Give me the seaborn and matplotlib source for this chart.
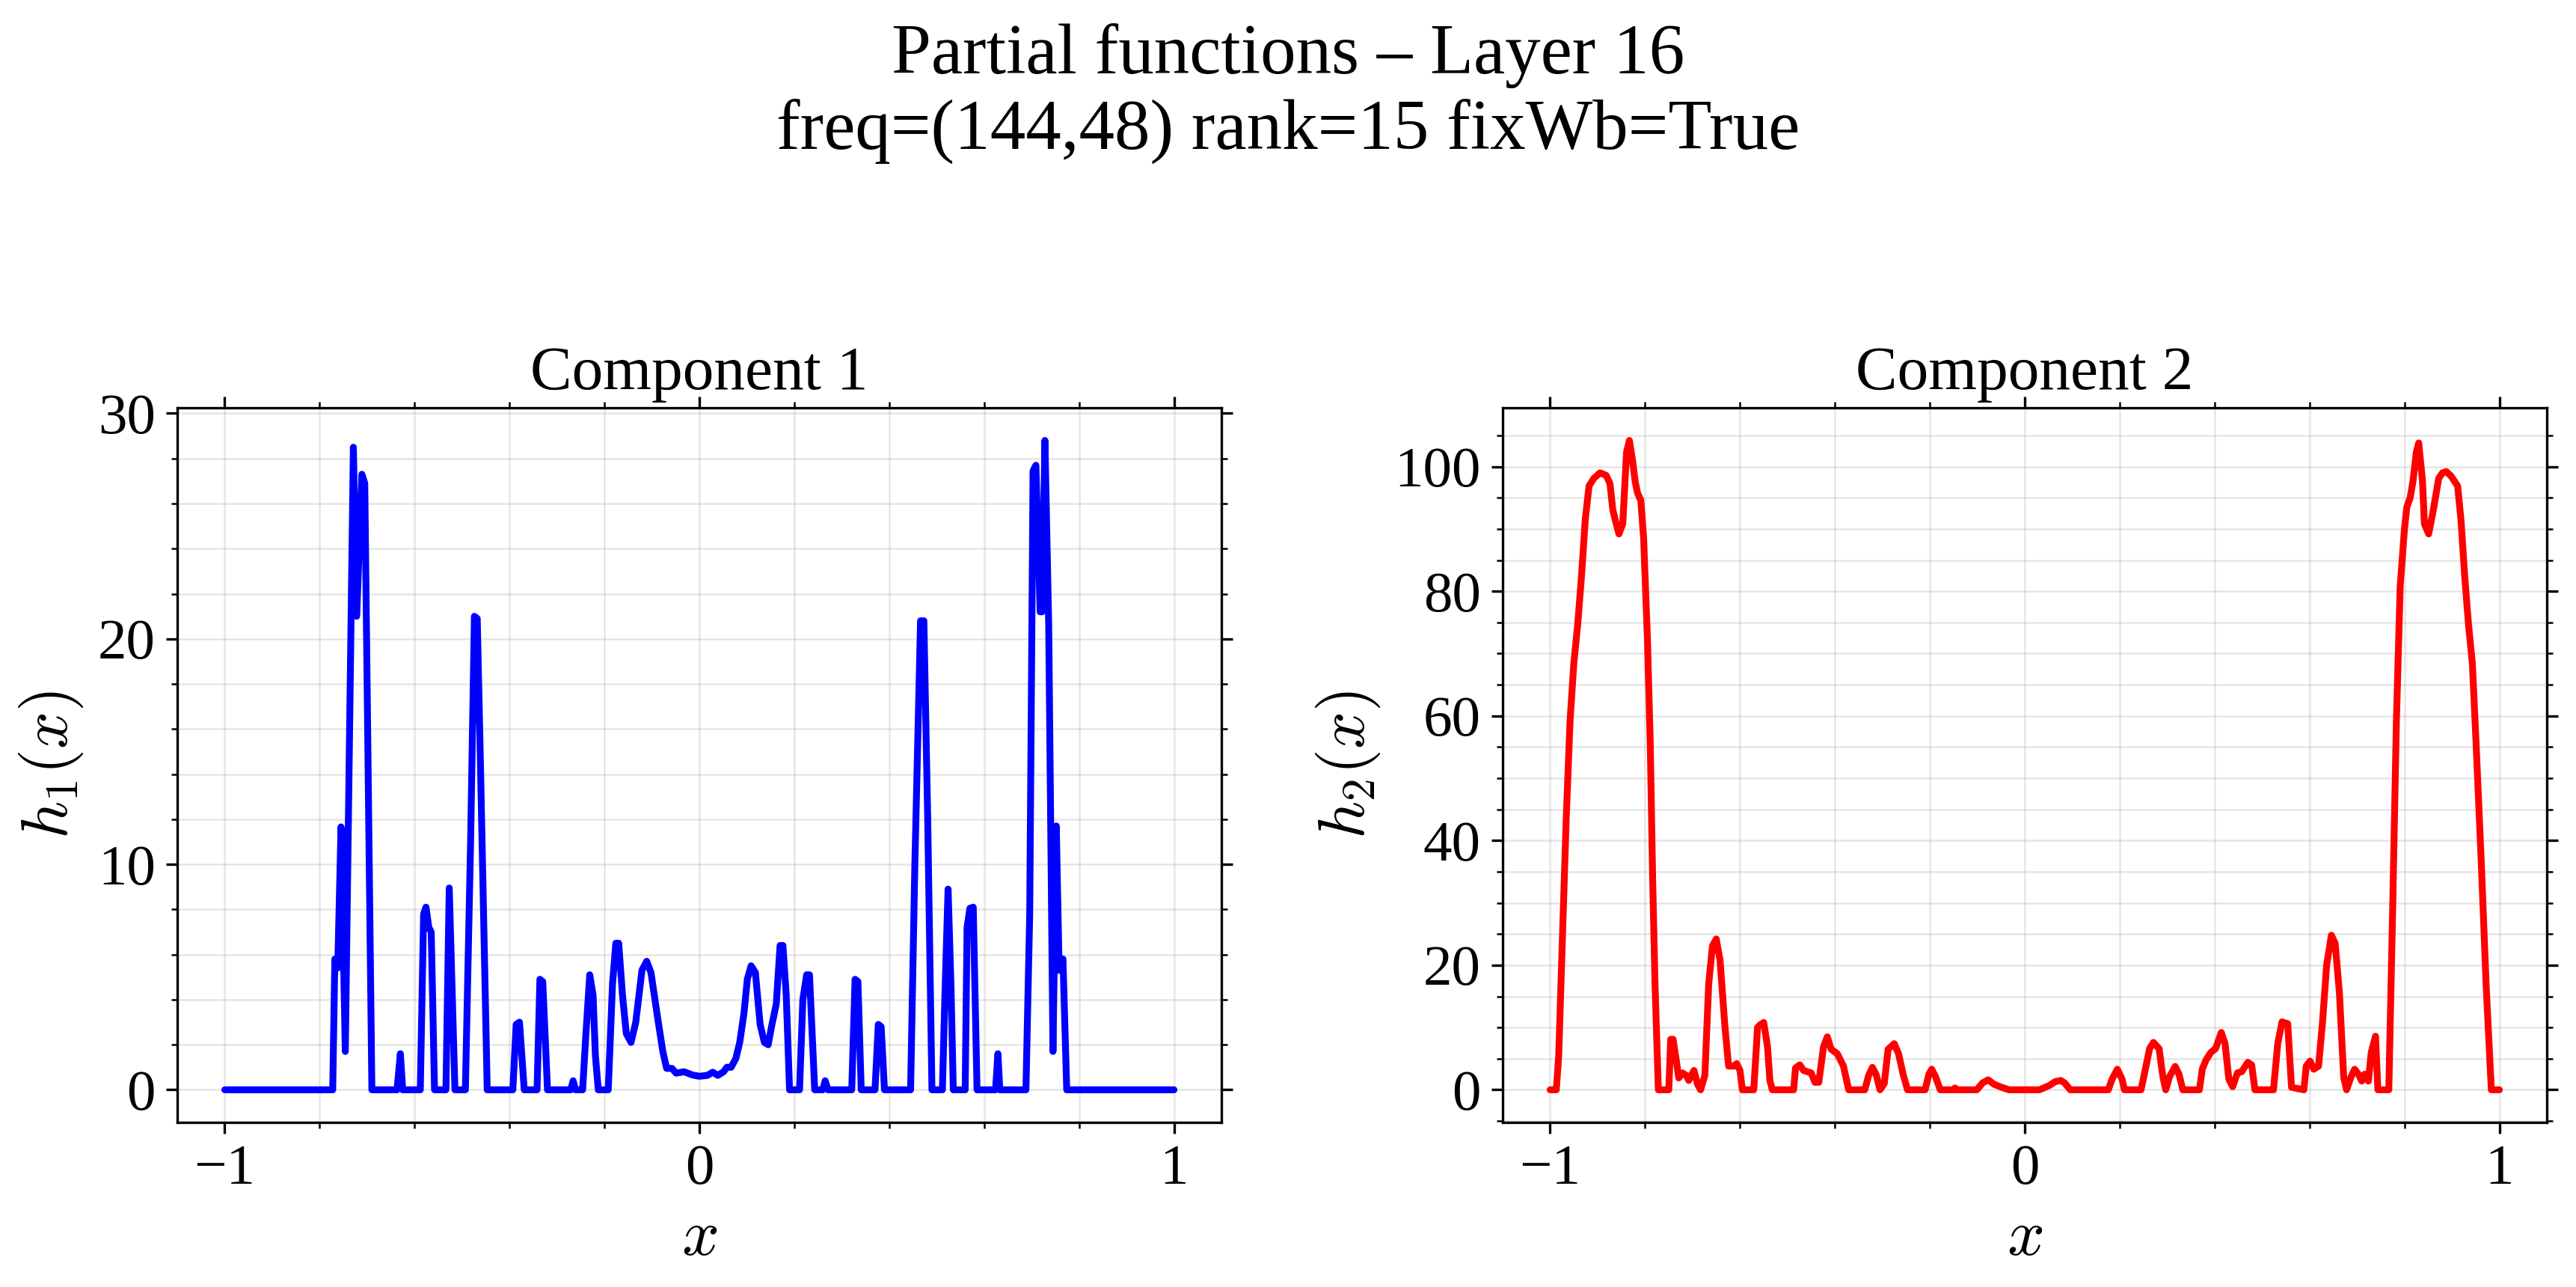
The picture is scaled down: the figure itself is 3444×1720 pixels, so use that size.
import numpy as np
import pandas as pd
import seaborn as sns
import matplotlib.pyplot as plt
from matplotlib.ticker import MultipleLocator, AutoMinorLocator

# component 1
x1 = [-1.0, -0.7725, -0.768, -0.762, -0.755, -0.746, -0.729, -0.722, -0.711, -0.705,
      -0.690, -0.637, -0.630, -0.625, -0.588, -0.581, -0.576, -0.570, -0.565, -0.558,
      -0.534, -0.527, -0.515, -0.493, -0.482, -0.474, -0.468, -0.461, -0.447, -0.393,
      -0.386, -0.379, -0.369, -0.342, -0.336, -0.330, -0.320, -0.271, -0.266, -0.261,
      -0.246, -0.239, -0.231, -0.224, -0.219, -0.213, -0.192, -0.183, -0.176, -0.170,
      -0.162, -0.154, -0.144, -0.134, -0.121, -0.111, -0.102, -0.088, -0.077, -0.069,
      -0.058, -0.049, -0.032, -0.015, 0.000, 0.017, 0.028, 0.039, 0.051, 0.058,
      0.067, 0.077, 0.085, 0.094, 0.101, 0.109, 0.118, 0.128, 0.137, 0.145,
      0.152, 0.162, 0.170, 0.176, 0.183, 0.190, 0.211, 0.218, 0.226, 0.232,
      0.243, 0.260, 0.265, 0.271, 0.321, 0.328, 0.334, 0.341, 0.370, 0.377,
      0.383, 0.390, 0.445, 0.454, 0.466, 0.473, 0.481, 0.490, 0.512, 0.518,
      0.524, 0.530, 0.535, 0.560, 0.564, 0.570, 0.577, 0.585, 0.624, 0.629,
      0.633, 0.688, 0.696, 0.703, 0.709, 0.718, 0.722, 0.728, 0.736, 0.745,
      0.752, 0.758, 0.766, 0.774, 1.0]
h1 = [0, 0, 5.8, 5.4, 11.66, 1.7, 28.5, 21.0, 27.3, 26.9,
      0, 0, 1.6, 0, 0, 7.8, 8.1, 7.2, 7.0, 0,
      0, 8.95, 0, 0, 11.0, 21.0, 20.9, 14.2, 0, 0,
      2.9, 3.0, 0, 0, 4.9, 4.8, 0, 0, 0.4, 0,
      0, 2.5, 5.1, 4.2, 1.5, 0, 0, 4.7, 6.5, 6.5,
      4.2, 2.5, 2.1, 3.0, 5.3, 5.7, 5.2, 3.2, 1.7, 0.95,
      0.95, 0.74, 0.8, 0.66, 0.6, 0.64, 0.78, 0.64, 0.8, 1.0,
      1.0, 1.4, 2.1, 3.4, 4.9, 5.5, 5.2, 2.9, 2.1, 2.0,
      2.8, 3.8, 6.4, 6.4, 4.2, 0, 0, 4.0, 5.1, 5.1,
      0, 0, 0.4, 0, 0, 4.9, 4.8, 0, 0, 2.9,
      2.8, 0, 0, 10.0, 20.8, 20.8, 12.1, 0, 0, 4.7,
      8.9, 4.7, 0, 0, 7.2, 8.05, 8.1, 0, 0, 1.6,
      0, 0, 7.8, 27.45, 27.7, 21.2, 21.2, 28.8, 20.6, 1.7,
      11.7, 5.3, 5.8, 0, 0]

# component 2
x2 = [-1.0, -0.987, -0.982, -0.974, -0.966, -0.958, -0.950, -0.942, -0.934, -0.926,
      -0.918, -0.908, -0.895, -0.882, -0.874, -0.868, -0.863, -0.855, -0.847, -0.839,
      -0.833, -0.826, -0.821, -0.816, -0.809, -0.803, -0.795, -0.789, -0.784, -0.779,
      -0.772, -0.750, -0.746, -0.741, -0.734, -0.729, -0.721, -0.713, -0.708, -0.697,
      -0.689, -0.683, -0.674, -0.666, -0.658, -0.650, -0.642, -0.632, -0.624, -0.613,
      -0.607, -0.600, -0.595, -0.571, -0.563, -0.558, -0.550, -0.542, -0.537, -0.532,
      -0.487, -0.483, -0.474, -0.466, -0.458, -0.450, -0.442, -0.434, -0.424, -0.416,
      -0.408, -0.395, -0.382, -0.371, -0.337, -0.329, -0.321, -0.313, -0.305, -0.296,
      -0.288, -0.275, -0.266, -0.256, -0.247, -0.210, -0.202, -0.196, -0.188, -0.178,
      -0.150, -0.147, -0.144, -0.101, -0.089, -0.077, -0.065, -0.049, -0.033, 0.031,
      0.052, 0.064, 0.076, 0.084, 0.096, 0.176, 0.184, 0.195, 0.205, 0.210,
      0.245, 0.253, 0.263, 0.271, 0.283, 0.291, 0.297, 0.305, 0.317, 0.325,
      0.333, 0.368, 0.374, 0.382, 0.392, 0.402, 0.414, 0.422, 0.430, 0.438,
      0.448, 0.457, 0.470, 0.478, 0.485, 0.524, 0.533, 0.542, 0.554, 0.562,
      0.588, 0.593, 0.601, 0.609, 0.619, 0.627, 0.636, 0.646, 0.654, 0.663,
      0.672, 0.678, 0.687, 0.695, 0.703, 0.710, 0.716, 0.724, 0.730, 0.739,
      0.744, 0.767, 0.775, 0.783, 0.791, 0.800, 0.805, 0.812, 0.818, 0.825,
      0.830, 0.838, 0.842, 0.851, 0.859, 0.867, 0.872, 0.880, 0.888, 0.898,
      0.912, 0.919, 0.927, 0.935, 0.943, 0.951, 0.962, 0.972, 0.983, 1.0]
h2 = [0, 0, 5.4, 24.6, 43.8, 59.2, 68.5, 74.6, 82.3, 91.5,
      96.9, 98.1, 99.0, 98.6, 97.3, 93.1, 91.5, 89.2, 90.8, 102.3,
      104.2, 100.8, 97.7, 95.8, 94.6, 88.5, 72.3, 55.4, 33.8, 16.9,
      0, 0, 8.1, 8.1, 4.6, 1.9, 2.7, 2.3, 1.5, 3.1,
      0.8, 0, 2.3, 16.9, 23.1, 24.2, 20.8, 10.4, 3.8, 3.8,
      4.2, 3.1, 0, 0, 10.0, 10.4, 10.8, 6.9, 1.5, 0,
      0, 3.5, 4.0, 3.1, 2.9, 2.7, 1.2, 1.2, 6.9, 8.5,
      6.5, 5.8, 3.8, 0, 0, 2.3, 3.6, 2.4, 0, 1.0,
      6.5, 7.4, 5.8, 2.4, 0, 0, 2.5, 3.3, 2.1, 0,
      0, 0.3, 0, 0, 1.1, 1.6, 0.9, 0.4, 0, 0,
      0.7, 1.3, 1.5, 1.1, 0, 0, 1.7, 3.3, 1.7, 0,
      0, 2.9, 6.6, 7.6, 6.6, 2.1, 0, 2.1, 3.75, 2.5,
      0, 0, 3.3, 4.8, 6.0, 6.6, 9.2, 7.4, 1.7, 0.5,
      2.7, 2.9, 4.4, 4.0, 0, 0, 7.4, 10.9, 10.6, 0.4,
      0, 3.8, 4.6, 3.3, 3.8, 10.5, 20.0, 24.8, 23.5, 15.5,
      2.0, 0, 2.0, 3.3, 2.5, 1.4, 2.5, 1.4, 6.0, 8.6,
      0, 0, 28.5, 59.2, 80.8, 90.0, 93.5, 95.0, 97.7, 102.3,
      103.8, 97.7, 90.8, 89.2, 92.3, 95.8, 98.1, 99.0, 99.2, 98.5,
      96.9, 91.5, 82.3, 74.6, 68.5, 55.4, 36.2, 16.9, 0, 0]

panels = [
    ("Component 1", r"$h_1(x)$", x1, h1, "blue", 10),
    ("Component 2", r"$h_2(x)$", x2, h2, "red", 20),
]

sns.set_style("ticks")
plt.rcParams["font.family"] = ["Liberation Serif", "DejaVu Serif"]
plt.rcParams["mathtext.fontset"] = "cm"
plt.rcParams["axes.unicode_minus"] = True
for key in ["text.color", "axes.labelcolor", "axes.edgecolor", "xtick.color", "ytick.color"]:
    plt.rcParams[key] = "black"

fig, axes = plt.subplots(1, 2, figsize=(3445 / 300, 1720 / 300), dpi=300)
fig.subplots_adjust(left=0.0688, right=0.9884, bottom=0.128, top=0.683, wspace=0.2693)

for ax, (title, ylab, xs, ys, col, ystep) in zip(axes, panels):
    df = pd.DataFrame({"x": xs, "h": ys})
    sns.lineplot(data=df, x="x", y="h", ax=ax, color=col, linewidth=2.2,
                 estimator=None, sort=False)
    ax.set_title(title, fontsize=20)
    ax.set_xlabel(r"$x$", fontsize=21, labelpad=4)
    ax.set_ylabel(ylab, fontsize=21, labelpad=4)
    ax.xaxis.set_major_locator(MultipleLocator(1))
    ax.yaxis.set_major_locator(MultipleLocator(ystep))
    ax.xaxis.set_minor_locator(AutoMinorLocator())
    ax.yaxis.set_minor_locator(AutoMinorLocator())
    ax.tick_params(which="both", direction="out", top=True, right=True, labelsize=18.5)
    ax.tick_params(which="major", length=3.5, width=0.8)
    ax.tick_params(which="minor", length=2, width=0.6)
    ax.grid(True, which="both", color="0.5", alpha=0.2, linewidth=0.6)
    for sp in ax.spines.values():
        sp.set_linewidth(0.8)
        sp.set_color("black")

fig.suptitle("Partial functions – Layer 16\nfreq=(144,48) rank=15 fixWb=True",
             fontsize=22.8, y=0.982, va="top")

fig.savefig("out.png", dpi=300)
